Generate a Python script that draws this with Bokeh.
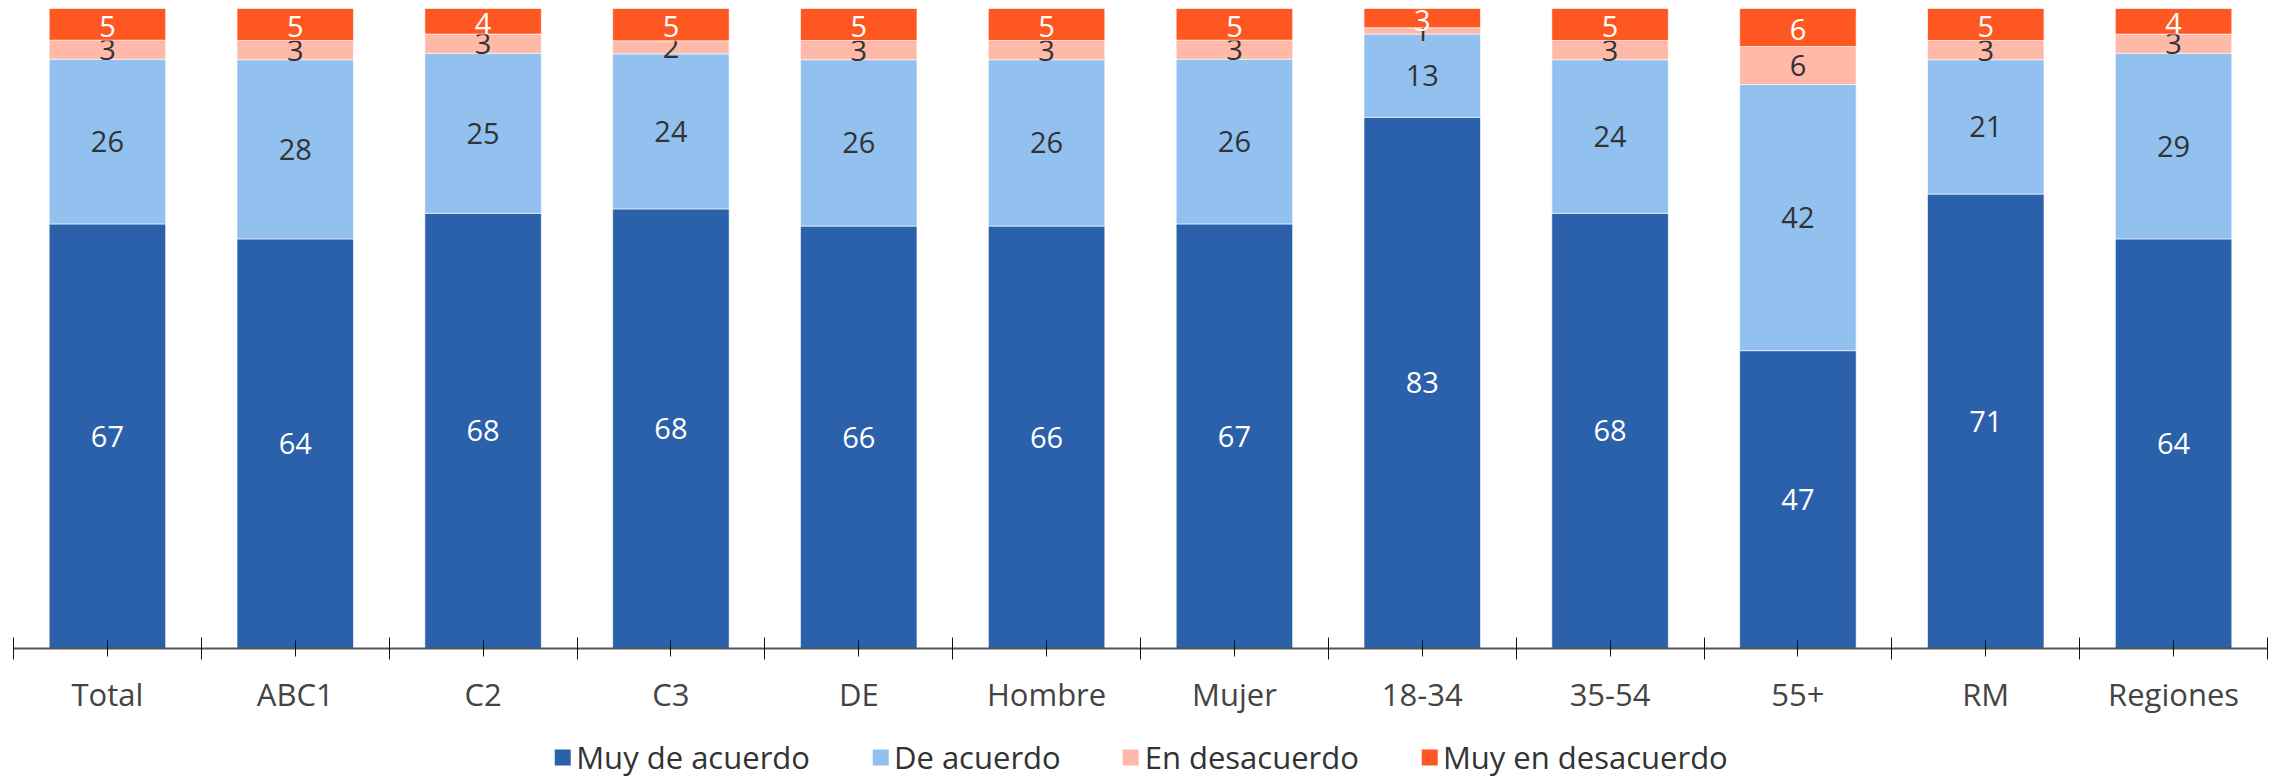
import numpy as np
from bokeh.plotting import figure
from bokeh.layouts import column
from bokeh.models import ColumnDataSource, Range1d, FixedTicker, CustomJSTickFormatter, Legend, LegendItem
from bokeh.core.properties import value
from bokeh.embed import file_html
from bokeh.resources import INLINE

categories = ["Total", "ABC1", "C2", "C3", "DE", "Hombre", "Mujer", "18-34", "35-54", "55+", "RM", "Regiones"]
muy_de_acuerdo = [67, 64, 68, 68, 66, 66, 67, 83, 68, 47, 71, 64]
de_acuerdo = [26, 28, 25, 24, 26, 26, 26, 13, 24, 42, 21, 29]
en_desacuerdo = [3, 3, 3, 2, 3, 3, 3, 1, 3, 6, 3, 3]
muy_en_desacuerdo = [5, 5, 4, 5, 5, 5, 5, 3, 5, 6, 5, 4]
series_names = ["Muy de acuerdo", "De acuerdo", "En desacuerdo", "Muy en desacuerdo"]
series_values = [muy_de_acuerdo, de_acuerdo, en_desacuerdo, muy_en_desacuerdo]
colors = ["#2B60AA", "#92C1F0", "#FFB9A8", "#FF5722"]
label_colors = ["#FFFFFF", "#333333", "#333333", "#FFFFFF"]

FONT = "Open Sans"
n = len(categories)
x = np.arange(n) + 0.5
vals = np.array(series_values, dtype=float)
totals = vals.sum(axis=0)
pct = vals / totals * 100.0
tops = np.cumsum(pct, axis=0)
bottoms = tops - pct

p = figure(frame_width=2254, frame_height=640, x_range=Range1d(0, n), y_range=Range1d(0, 100),
           output_backend="svg", toolbar_location=None, y_axis_location=None,
           min_border_left=13, min_border_right=7, min_border_top=8, min_border_bottom=88)
p.outline_line_color = None
p.xgrid.visible = False
p.ygrid.visible = False

# legend lives in its own strip below the chart (its copies of the bars fall outside its range)
lg = figure(frame_width=2254, frame_height=42, x_range=Range1d(0, n), y_range=Range1d(1000, 1001),
            output_backend="svg", toolbar_location=None, x_axis_location=None, y_axis_location=None,
            min_border_left=13, min_border_right=7, min_border_top=0, min_border_bottom=0)
lg.outline_line_color = None
lg.xgrid.visible = False
lg.ygrid.visible = False

items = []
for i, name in enumerate(series_names):
    src = ColumnDataSource(dict(x=x, bottom=bottoms[i], top=tops[i],
                                mid=(bottoms[i] + tops[i]) / 2,
                                lab=[str(int(v)) for v in series_values[i]]))
    p.vbar(x="x", bottom="bottom", top="top", width=0.62, source=src,
           fill_color=colors[i], line_color="white", line_width=1, line_alpha=0.6)
    p.text(x="x", y="mid", text="lab", source=src, text_align="center",
           text_baseline="middle", text_color=label_colors[i],
           text_font=value(FONT), text_font_size="29px",
           y_offset=2 if i == len(series_names) - 1 else 0)
    r = lg.vbar(x="x", bottom="bottom", top="top", width=0.62, source=src,
                fill_color=colors[i], line_color=None)
    items.append(LegendItem(label=name, renderers=[r]))

ax = p.xaxis[0]
ax.ticker = FixedTicker(ticks=list(x), minor_ticks=list(range(n + 1)))
ax.formatter = CustomJSTickFormatter(args=dict(labels=categories),
                                     code="return labels[Math.floor(tick)] || '';")
ax.axis_line_color = "#555555"
ax.axis_line_width = 2
ax.major_tick_in = 8
ax.major_tick_out = 8
ax.major_tick_line_color = "#111111"
ax.minor_tick_in = 11
ax.minor_tick_out = 11
ax.minor_tick_line_color = "#111111"
ax.major_label_text_font = FONT
ax.major_label_text_font_size = "31px"
ax.major_label_text_color = "#444444"
ax.major_label_standoff = 13

legend = Legend(items=items, orientation="horizontal", location="center",
                border_line_color=None, background_fill_alpha=0,
                padding=0, margin=0, spacing=60, glyph_width=20, glyph_height=20,
                label_standoff=4, label_text_font=FONT, label_text_font_size="31px",
                label_text_color="#333333")
lg.add_layout(legend, "center")

layout = column(p, lg, spacing=0)
open("out.html", "w").write(file_html(layout, INLINE))
